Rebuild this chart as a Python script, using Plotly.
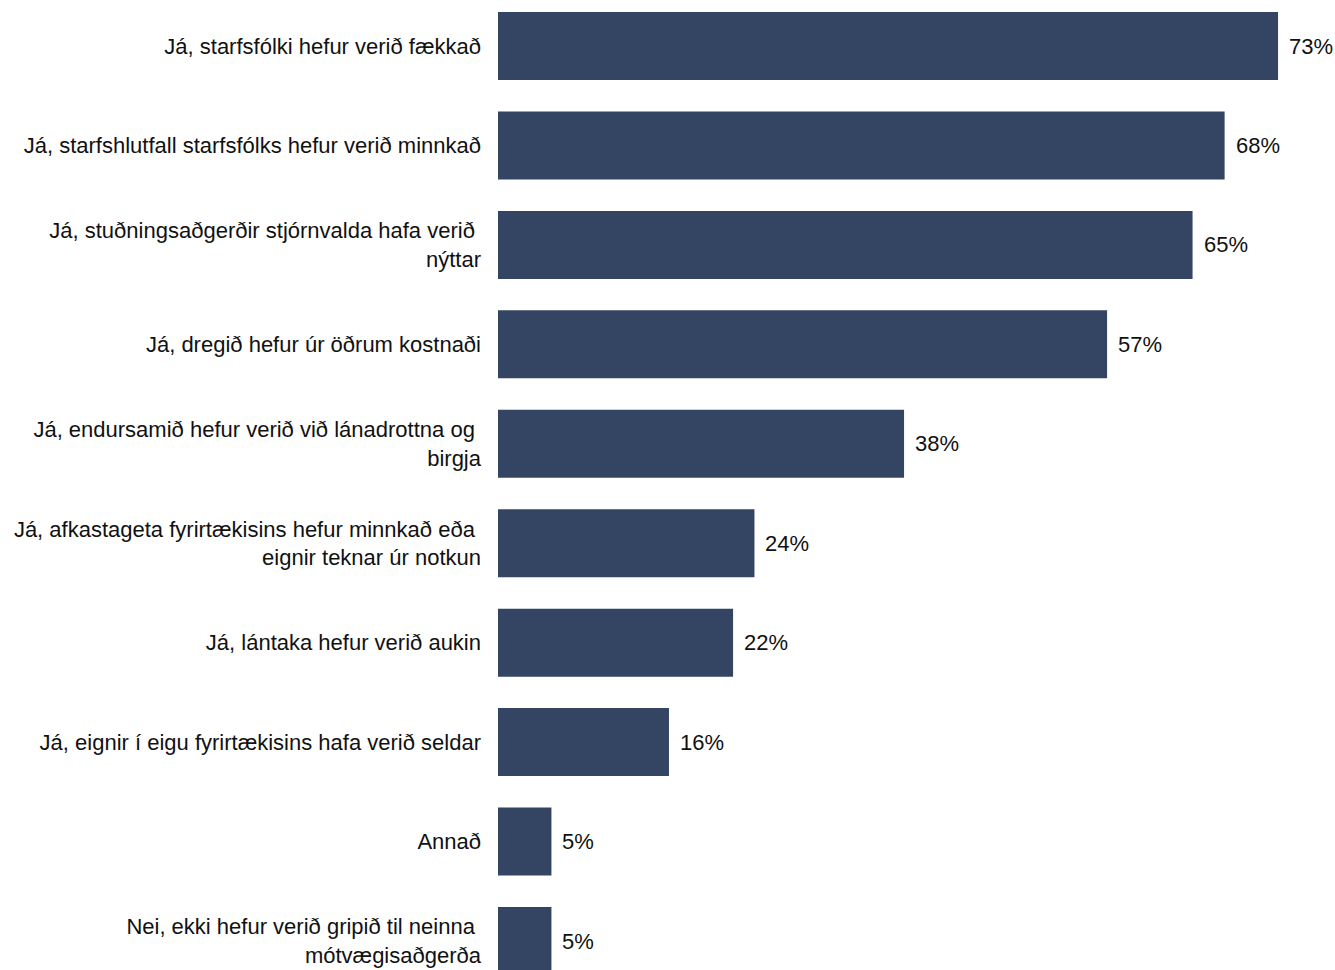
import plotly.graph_objects as go

categories = [
    "Já, starfsfólki hefur verið fækkað",
    "Já, starfshlutfall starfsfólks hefur verið minnkað",
    "Já, stuðningsaðgerðir stjórnvalda hafa verið\u00a0<br>nýttar",
    "Já, dregið hefur úr öðrum kostnaði",
    "Já, endursamið hefur verið við lánadrottna og\u00a0<br>birgja",
    "Já, afkastageta fyrirtækisins hefur minnkað eða\u00a0<br>eignir teknar úr notkun",
    "Já, lántaka hefur verið aukin",
    "Já, eignir í eigu fyrirtækisins hafa verið seldar",
    "Annað",
    "Nei, ekki hefur verið gripið til neinna\u00a0<br>mótvægisaðgerða",
]
values = [73, 68, 65, 57, 38, 24, 22, 16, 5, 5]
value_labels = [f"{v}%" for v in values]

BAR_COLOR = "#334562"
FONT = "Liberation Sans, Arial, sans-serif"
TXT = "#111111"
FS = 22

fig = go.Figure()
fig.add_trace(go.Bar(
    x=values,
    y=categories,
    orientation="h",
    marker=dict(color=BAR_COLOR, line=dict(width=0)),
    width=0.684,
    hoverinfo="skip",
))

for c, v, t in zip(categories, values, value_labels):
    fig.add_annotation(
        x=v, y=c, text=t, showarrow=False, xanchor="left", yanchor="middle",
        xshift=9, font=dict(family=FONT, size=FS, color=TXT),
    )

fig.update_layout(
    width=1335, height=970,
    margin=dict(l=498, r=0, t=0, b=0),
    paper_bgcolor="white", plot_bgcolor="white",
    showlegend=False,
    font=dict(family=FONT, size=FS, color=TXT),
)
fig.update_xaxes(range=[0, 78.33], visible=False, fixedrange=True)
fig.update_yaxes(
    type="category",
    range=[9.2916, -0.4626],
    showgrid=False, zeroline=False, showline=False,
    ticks="", ticklabelstandoff=16,
    tickfont=dict(family=FONT, size=FS, color=TXT),
    fixedrange=True,
)

fig.write_html(
    "out.html",
    config={"displayModeBar": False},
    post_script="document.body.style.margin='0';document.body.style.overflow='hidden';",
)
